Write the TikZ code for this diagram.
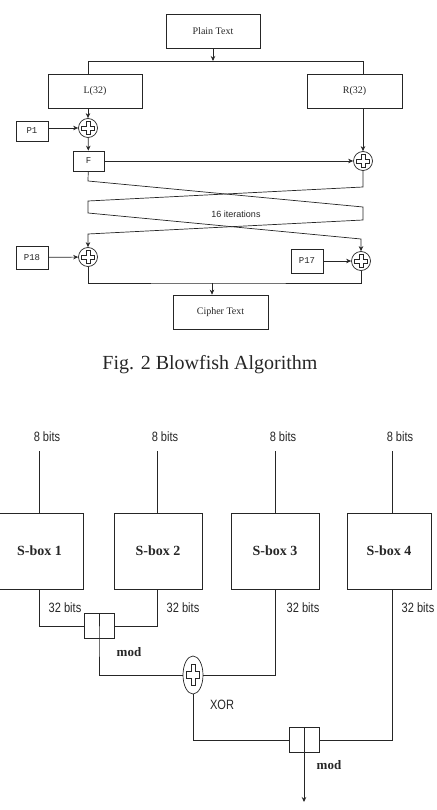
\documentclass[tikz,border=0pt]{standalone}
\usepackage{fontspec}
\setmainfont{Liberation Serif}
\setsansfont{Liberation Sans}
\setmonofont{Liberation Mono}
\newfontfamily\narrowsans[FakeStretch=0.82]{Liberation Sans}
\usetikzlibrary{arrows.meta,shapes.geometric}

\tikzset{
  blk/.style={draw, line width=0.7pt, inner sep=0pt, font=\fontsize{10}{12}\selectfont},
  pbox/.style={blk, minimum width=32pt, font=\ttfamily\fontsize{9}{11}\selectfont},
  xorc/.style={draw, circle, line width=0.7pt, minimum size=19pt, inner sep=0pt},
  sbox/.style={draw, line width=0.7pt, minimum width=88pt, minimum height=76pt, inner sep=0pt, font=\bfseries\fontsize{14}{16}\selectfont},
  modbox/.style={draw, line width=0.7pt, minimum width=30pt, minimum height=25pt, inner sep=0pt},
  bitlbl/.style={font=\narrowsans\fontsize{13.5}{15}\selectfont, inner sep=0pt},
  wire/.style={line width=0.7pt},
  pics/hplus/.style={code={
    \draw[line width=0.6pt] (-2,-6.5) -- (2,-6.5) -- (2,-2) -- (6.5,-2) -- (6.5,2) -- (2,2) -- (2,6.5) -- (-2,6.5) -- (-2,2) -- (-6.5,2) -- (-6.5,-2) -- (-2,-2) -- cycle;
  }}
}

\begin{document}
\begin{tikzpicture}[x=1pt, y=-1pt, >={Stealth[length=5pt,width=4.5pt]}, black!85]
\useasboundingbox (0,0) rectangle (436,810);

% Blowfish rounds
\node[blk, minimum width=94pt, minimum height=34pt] (plain) at (213,31) {Plain Text};
\node[blk, minimum width=94pt, minimum height=34pt] (L) at (95,91) {L(32)};
\node[blk, minimum width=95pt, minimum height=34pt] (R) at (354.5,91) {R(32)};
\coordinate (split) at (213,61);

\node[xorc] (x1) at (88,128) {};
\node[xorc] (x2) at (363,161) {};
\node[xorc] (x3) at (88,257) {};
\node[xorc] (x4) at (361,261) {};
\foreach \x in {x1,x2,x3,x4} \pic at (\x) {hplus};

\node[pbox, minimum height=20pt] (P1) at (32,131) {P1};
\node[blk, minimum width=31pt, minimum height=20pt, font=\ttfamily\fontsize{9}{11}\selectfont] (F) at (88.5,161) {F};
\node[pbox, minimum height=23pt] (P18) at (32,257.5) {P18};
\node[pbox, minimum height=24pt] (P17) at (307,261) {P17};
\node[blk, minimum width=95pt, minimum height=34pt] (cipher) at (220.5,312) {Cipher Text};

\draw[wire, ->] (plain) -- (split);
\draw[wire] (split) -| (L.north -| x1);
\draw[wire] (split) -| (R.north -| x2);
\draw[wire, ->] (L.south -| x1) -- (x1);
\draw[wire, ->] (P1.east |- x1) -- (x1);
\draw[wire, ->] (x1) -- (F);
\draw[wire, ->] (F) -- (x2);
\draw[wire, ->] (R.south -| x2) -- (x2);

% the swap
\coordinate (la) at (88,181);
\coordinate (ra) at (363,207);
\coordinate (rb) at (363,220);
\coordinate (lb) at (88,234);
\coordinate (rc) at (363,187);
\coordinate (lc) at (88,201);
\coordinate (ld) at (88,213);
\coordinate (rd) at (361,239);
\draw[wire, ->] (F) -- (la) -- (ra) -- (rb) -- (lb) -- (x3);
\draw[wire, ->] (x2) -- (rc) -- (lc) -- (ld) -- (rd) -- (x4);
\node[font=\sffamily\fontsize{9}{11}\selectfont] (iter) at (236,214) {16 iterations};

\draw[wire, ->] (P18) -- (x3);
\draw[wire, ->] (P17.east |- x4) -- (x4);
\coordinate (merge) at (212,283);
\draw[wire] (x3) |- (merge) -| (x4);
\draw[wire, ->] (merge) -- (merge |- cipher.north);

\node[font=\fontsize{20}{24}\selectfont] (cap) at (210,365) {Fig. 2 Blowfish Algorithm};

% F function
\node[sbox] (s1) at (39.5,551) {S-box 1};
\node[sbox] (s2) at (158,551) {S-box 2};
\node[sbox] (s3) at (275,551) {S-box 3};
\node[sbox, minimum width=84pt] (s4) at (389,551) {S-box 4};

\foreach \i/\x in {1/39,2/157,3/275,4/392} {
  \node[bitlbl] (in\i) at (\x+8,437) {8 bits};
  \coordinate (top\i) at (\x,451);
  \draw[wire] (top\i) -- (top\i |- s\i.north);
}
\node[bitlbl] (o1) at (65,608) {32 bits};
\node[bitlbl] (o2) at (183,608) {32 bits};
\node[bitlbl] (o3) at (303,608) {32 bits};
\node[bitlbl] (o4) at (418,608) {32 bits};

\node[modbox] (m1) at (99,626) {};
\node[draw, ellipse, line width=0.7pt, minimum width=20pt, minimum height=38pt, inner sep=0pt] (xr) at (193,675) {};
\pic[yscale=1.65] at (xr) {hplus};
\node[modbox] (m2) at (304,740) {};
\coordinate (out) at (304,802);

\draw[wire] (top1 |- s1.south) |- (m1) -| (top2 |- s2.south);
\draw[wire] (m1.north) -- (m1.south) |- (xr);
\draw[wire] (xr) -| (top3 |- s3.south);
\draw[wire] (xr) |- (m2) -| (top4 |- s4.south);
\draw[wire] (m2.north) -- (m2.south);
\draw[wire, ->] (m2.south) -- (out);

\node[font=\bfseries\fontsize{13}{15}\selectfont] (mod1) at (129,652) {mod};
\node[bitlbl] (xorlbl) at (222,705) {XOR};
\node[font=\bfseries\fontsize{13}{15}\selectfont] (mod2) at (329,765) {mod};
\end{tikzpicture}
\end{document}
